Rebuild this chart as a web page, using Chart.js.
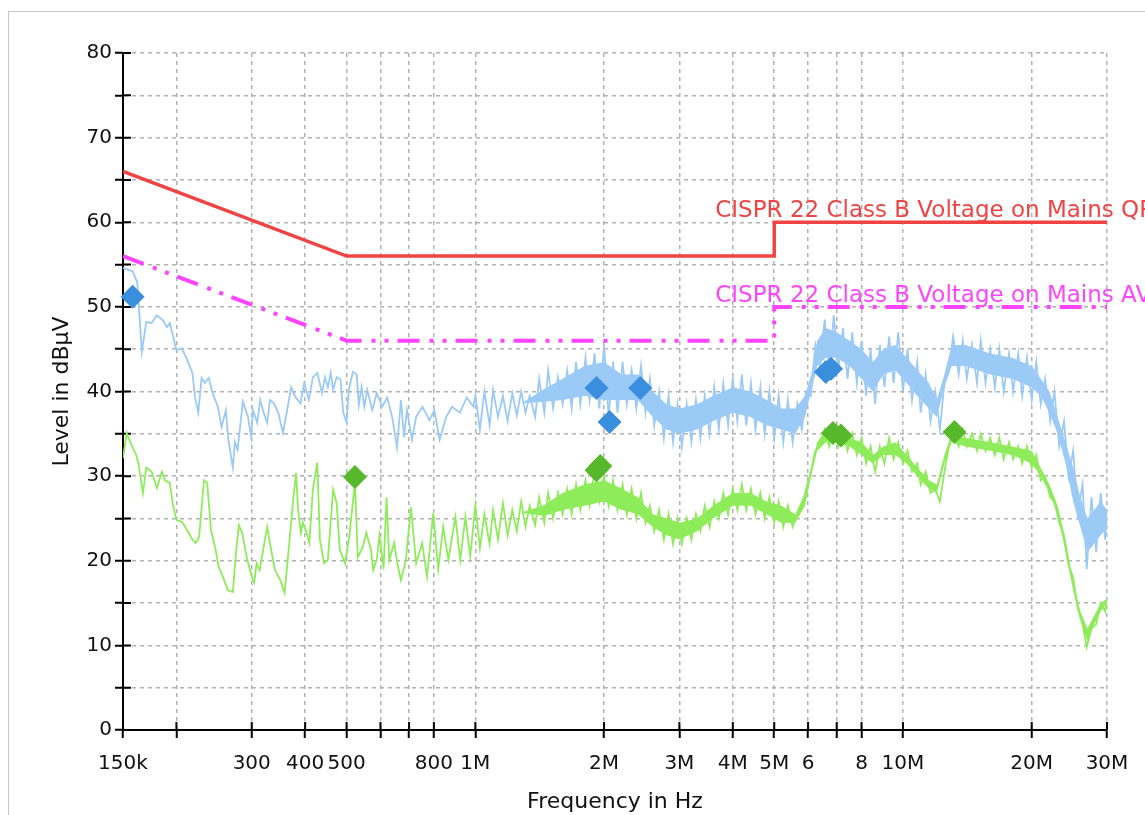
<!DOCTYPE html>
<html>
<head>
<meta charset="utf-8">
<title>EMI scan</title>
<script src="https://cdn.jsdelivr.net/npm/chart.js@4.4.1/dist/chart.umd.min.js"></script>
<style>
    html, body { margin: 0; padding: 0; background: #fff; overflow: hidden; }
    #frame { position: absolute; left: 8px; top: 11px; width: 1200px; height: 900px; border: 1px solid #c4c4c4; box-sizing: border-box; }
    #wrap { position: absolute; left: 0; top: 0; width: 1145px; height: 815px; }
</style>
</head>
<body>
<div id="frame"></div>
<div id="wrap"><canvas id="scanChart"></canvas></div>
<script>
// ============================================================
// DATA (frequency in MHz, level in dBµV)
// ============================================================
const xTickVals = [0.15, 0.2, 0.3, 0.4, 0.5, 0.6, 0.7, 0.8, 1, 2, 3, 4, 5, 6, 7, 8, 10, 20, 30];
const xTickText = ['150k', '', '300', '400', '500', '', '', '800', '1M', '2M', '3M', '4M', '5M', '6', '', '8', '10M', '20M', '30M'];
const yTickVals = [0, 5, 10, 15, 20, 25, 30, 35, 40, 45, 50, 55, 60, 65, 70, 75, 80];

const qpLimitName = 'CISPR 22 Class B Voltage on Mains QP';
const avLimitName = 'CISPR 22 Class B Voltage on Mains AV';
const qpLimitFreq = [0.15, 0.5, 5, 5, 30];
const qpLimitLvl  = [66, 56, 56, 60, 60];
const avLimitFreq = [0.15, 0.5, 5, 5, 30];
const avLimitLvl  = [56, 46, 46, 50, 50];

// final measurement markers
const qpMarkFreq = [0.158, 1.92, 2.06, 2.43, 6.6, 6.79];
const qpMarkLvl  = [51.2, 40.4, 36.4, 40.4, 42.3, 42.7];
const avMarkFreq = [0.523, 1.92, 1.96, 6.86, 7.16, 13.2];
const avMarkLvl  = [29.9, 30.7, 31.2, 35.1, 34.8, 35.2];

// peak scan, 150 kHz .. 1 MHz
const pkLowFreq = [
    0.150, 0.158, 0.162, 0.166, 0.170, 0.175, 0.180, 0.186, 0.190, 0.193,
    0.196, 0.200, 0.206, 0.212, 0.218, 0.221, 0.225, 0.229, 0.233, 0.238,
    0.243, 0.250, 0.255, 0.261, 0.264, 0.271, 0.274, 0.278, 0.286, 0.294,
    0.299, 0.302, 0.309, 0.314, 0.320, 0.326, 0.331, 0.338, 0.346, 0.355,
    0.363, 0.371, 0.380, 0.390, 0.398, 0.408, 0.417, 0.427, 0.438, 0.445,
    0.452, 0.459, 0.465, 0.474, 0.484, 0.491, 0.500, 0.506, 0.517, 0.528,
    0.534, 0.542, 0.550, 0.559, 0.574, 0.588, 0.606, 0.622, 0.639, 0.656,
    0.670, 0.681, 0.692, 0.711, 0.727, 0.752, 0.781, 0.802, 0.825, 0.855,
    0.882, 0.920, 0.955, 0.990
];
const pkLowLvl = [
    54.6, 54.2, 52.9, 44.7, 48.2, 48.1, 49.0, 48.4, 47.6, 48.1,
    46.7, 44.9, 45.1, 43.7, 42.2, 39.3, 37.5, 41.6, 41.0, 41.6,
    39.8, 38.2, 35.8, 37.8, 34.6, 31.0, 34.0, 33.1, 38.8, 37.0,
    34.6, 37.8, 36.3, 39.0, 37.5, 36.3, 39.0, 38.6, 37.5, 35.1,
    37.8, 40.5, 39.3, 38.6, 41.0, 39.0, 41.7, 42.2, 39.8, 41.7,
    40.5, 42.2, 40.2, 41.7, 41.4, 37.5, 36.3, 40.2, 42.3, 42.0,
    38.4, 40.5, 38.2, 40.2, 37.8, 39.8, 38.2, 39.3, 37.0, 33.4,
    39.0, 34.6, 37.8, 34.3, 37.0, 38.2, 36.6, 37.8, 34.3, 37.0,
    38.2, 37.5, 39.3, 38.2
];

// average scan, 150 kHz .. 1 MHz
const avLowFreq = [
    0.150, 0.153, 0.157, 0.161, 0.163, 0.167, 0.170, 0.175, 0.180, 0.185,
    0.188, 0.193, 0.196, 0.200, 0.206, 0.212, 0.218, 0.222, 0.226, 0.232,
    0.236, 0.241, 0.247, 0.251, 0.256, 0.264, 0.271, 0.276, 0.280, 0.285,
    0.292, 0.300, 0.304, 0.308, 0.313, 0.326, 0.333, 0.340, 0.350, 0.358,
    0.366, 0.375, 0.381, 0.385, 0.391, 0.395, 0.403, 0.409, 0.417, 0.427,
    0.433, 0.443, 0.452, 0.465, 0.474, 0.482, 0.496, 0.507, 0.523, 0.531,
    0.545, 0.556, 0.570, 0.577, 0.588, 0.597, 0.610, 0.620, 0.629, 0.646,
    0.658, 0.670, 0.688, 0.707, 0.727, 0.751, 0.771, 0.797, 0.819, 0.841,
    0.865, 0.898, 0.922, 0.948, 0.973
];
const avLowLvl = [
    32.1, 35.1, 33.7, 32.5, 31.5, 28.0, 31.0, 30.5, 28.6, 30.5,
    29.5, 29.2, 26.8, 24.8, 24.6, 23.6, 22.5, 22.1, 22.8, 29.5,
    29.2, 23.6, 21.3, 19.3, 18.3, 16.5, 16.3, 21.3, 24.2, 23.3,
    20.4, 18.1, 17.4, 19.7, 18.9, 24.0, 21.3, 18.9, 17.7, 16.2,
    21.3, 27.2, 30.4, 26.0, 23.3, 24.5, 23.3, 22.1, 28.4, 31.6,
    22.5, 19.7, 20.1, 28.4, 26.8, 21.3, 19.7, 22.8, 29.2, 20.4,
    21.6, 23.3, 21.3, 18.9, 20.1, 23.0, 19.0, 27.5, 20.1, 22.1,
    19.5, 17.7, 20.1, 26.3, 19.7, 22.1, 18.1, 25.6, 19.0, 24.0,
    20.1, 25.2, 20.1, 25.2, 20.5
];

// 1 MHz .. 30 MHz, both detectors on the same frequency list
const hiFreq = [
    1.00, 1.025, 1.05, 1.08, 1.10, 1.13, 1.16, 1.19, 1.22, 1.25,
    1.28, 1.31, 1.34, 1.38, 1.41, 1.45, 1.48, 1.52, 1.56, 1.60,
    1.64, 1.68, 1.72, 1.76, 1.81, 1.85, 1.90, 1.95, 2.00, 2.05,
    2.10, 2.15, 2.21, 2.26, 2.32, 2.38, 2.44, 2.50, 2.56, 2.62,
    2.69, 2.76, 2.83, 2.90, 2.97, 3.04, 3.12, 3.20, 3.28, 3.36,
    3.44, 3.53, 3.62, 3.71, 3.80, 3.90, 4.00, 4.10, 4.20, 4.30,
    4.41, 4.52, 4.64, 4.75, 4.87, 5.00, 5.12, 5.25, 5.38, 5.52,
    5.66, 5.80, 5.94, 6.09, 6.24, 6.40, 6.56, 6.72, 6.89, 7.06,
    7.24, 7.42, 7.61, 7.80, 8.00, 8.20, 8.40, 8.61, 8.83, 9.05,
    9.28, 9.51, 9.75, 10.0, 10.25, 10.5, 10.8, 11.0, 11.3, 11.6,
    11.9, 12.2, 12.5, 12.8, 13.1, 13.5, 13.8, 14.1, 14.5, 14.9,
    15.2, 15.6, 16.0, 16.4, 16.8, 17.2, 17.7, 18.1, 18.6, 19.0,
    19.5, 20.0, 20.5, 21.0, 21.5, 22.1, 22.6, 23.2, 23.8, 24.4,
    25.0, 25.6, 26.3, 26.9, 27.6, 28.3, 29.0, 29.7, 30.0
];
const pkHiLvl = [
    39.5, 35.5, 40.0, 36.0, 40.2, 37.0, 39.5, 36.5, 39.8, 37.2,
    40.0, 37.5, 39.5, 37.0, 41.5, 37.5, 42.5, 38.0, 41.7, 38.5,
    42.5, 38.0, 43.5, 38.5, 44.0, 39.0, 44.5, 38.0, 45.5, 37.0,
    43.5, 37.5, 43.5, 38.5, 42.5, 38.0, 43.0, 37.5, 41.5, 36.0,
    40.0, 34.5, 39.5, 34.0, 38.5, 33.5, 38.5, 34.0, 39.0, 34.5,
    39.5, 35.0, 40.5, 35.5, 41.0, 36.0, 41.5, 36.5, 42.0, 36.0,
    41.0, 35.5, 40.5, 35.0, 40.0, 34.5, 39.5, 34.0, 39.0, 34.0,
    38.5, 35.5, 40.0, 39.5, 45.5, 43.0, 48.5, 42.5, 49.0, 42.5,
    47.5, 41.5, 47.0, 41.0, 46.0, 39.5, 45.0, 38.5, 45.5, 40.5,
    46.5, 41.0, 47.0, 40.0, 45.0, 39.0, 43.5, 37.5, 42.0, 36.5,
    40.0, 35.5, 41.0, 42.5, 46.5, 42.0, 46.0, 41.5, 45.5, 41.0,
    46.0, 41.0, 45.0, 40.5, 45.0, 40.0, 44.5, 40.0, 44.5, 39.5,
    44.0, 39.0, 43.5, 38.5, 41.5, 36.5, 40.0, 33.5, 36.5, 30.0,
    33.0, 25.5, 29.0, 19.0, 27.5, 21.0, 28.0, 22.5, 26.0
];
const avHiLvl = [
    26.5, 21.5, 25.5, 22.0, 26.0, 22.5, 26.8, 23.0, 26.0, 23.5,
    27.0, 24.0, 26.5, 24.2, 27.5, 24.5, 28.0, 25.0, 28.0, 25.5,
    28.5, 25.5, 29.0, 26.0, 29.5, 26.5, 30.5, 27.0, 30.0, 26.5,
    29.5, 26.0, 29.0, 25.5, 28.5, 25.0, 28.0, 24.5, 26.5, 23.5,
    26.0, 22.5, 25.5, 22.0, 25.0, 22.0, 25.0, 22.5, 25.5, 23.5,
    26.5, 24.0, 27.0, 25.0, 28.0, 25.5, 28.5, 26.0, 29.0, 26.0,
    28.5, 25.5, 28.0, 25.0, 27.5, 24.5, 27.0, 24.0, 26.5, 24.0,
    25.5, 26.5, 28.5, 30.5, 33.0, 33.5, 35.5, 33.5, 36.0, 33.5,
    35.5, 33.0, 35.0, 32.5, 34.5, 31.5, 33.5, 30.5, 33.5, 31.5,
    34.5, 32.0, 34.0, 31.5, 33.0, 30.5, 31.5, 29.0, 30.5, 28.0,
    28.5, 27.0, 30.5, 33.5, 35.5, 33.5, 35.5, 33.5, 35.0, 33.0,
    35.0, 33.0, 34.5, 32.5, 34.5, 32.0, 34.0, 32.0, 33.5, 31.5,
    33.5, 31.0, 32.5, 29.5, 30.0, 27.5, 27.0, 24.5, 23.0, 19.5,
    18.0, 14.5, 12.5, 9.8, 12.0, 12.5, 15.0, 14.0, 15.5
];

// solid core of the dense noise bands above ~1.3 MHz
const bandFreq = [
    1.3, 1.45, 1.6, 1.8, 2.0, 2.2, 2.4, 2.6, 2.8, 3.0, 3.3,
    3.6, 4.0, 4.4, 4.8, 5.2, 5.6, 5.9, 6.1, 6.3, 6.6,
    7.0, 7.5, 8.0, 8.5, 9.0, 9.6, 10.2, 10.8, 11.5, 12.0,
    12.5, 13.0, 14, 16, 18, 20, 21, 22, 23, 24,
    25, 26, 27, 28, 29, 30
];
const pkBandLo = [
    38.6, 38.8, 39, 39.5, 39, 39, 39, 37, 35.5, 35, 35.5,
    36.5, 37.5, 37, 36, 35.5, 35, 37, 40, 43, 44,
    44, 43, 41.5, 40, 42, 42.5, 41, 39.5, 38, 37,
    40.5, 43, 43, 42, 41.5, 40.5, 39.5, 37.5, 35, 31.5,
    27, 24, 21, 22, 23, 24
];
const pkBandHi = [
    38.8, 40.3, 41.5, 43, 43.5, 42, 42, 40, 38.5, 38, 38.5,
    39.5, 40.5, 40, 39, 38, 38, 39.5, 42, 46, 47.5,
    47, 46, 45, 43.5, 45, 45.5, 44, 42.5, 41, 39,
    42, 45.5, 45.5, 44.5, 44, 43, 41.5, 40, 37, 34,
    31, 27.5, 25, 26, 27, 26
];
const avBandLo = [
    25.6, 25.3, 26, 26.5, 27, 26, 25.5, 24, 23, 22.5, 23.5,
    25, 26.5, 26.5, 25.5, 24.5, 24.5, 26.5, 30, 33, 34,
    34, 33.5, 32.5, 31.5, 32.5, 32.5, 31.5, 30, 28.5, 28,
    31.5, 34, 33.5, 33, 32.5, 31.5, 30, 28, 25.5, 21,
    16.5, 13, 10.5, 12.5, 14, 15
];
const avBandHi = [
    25.8, 26.6, 28, 29, 29.5, 28.5, 27.5, 25.5, 25, 24.5, 25,
    26.5, 28, 28, 27, 26.5, 25.5, 28, 31, 34, 35.5,
    35.5, 34.5, 34, 32.5, 33.5, 34, 32.5, 31, 29.5, 29,
    32.5, 35, 34.5, 34, 33.5, 33, 31, 29, 26.5, 22.5,
    17.5, 14, 12, 13.5, 15, 15.5
];

// ============================================================
// STYLE
// ============================================================
const FONT = 'DejaVu Sans';
const COLORS = {
    qpLimit: '#f04444',
    avLimit: '#ff44ff',
    peak: '#9ccaf6',
    average: '#8eec5a',
    qpMark: '#3a8ede',
    avMark: '#58b82c',
    grid: '#b2b2b2'
};
// label anchors (MHz, dBµV)
const qpLabelAt = [3.64, 60.6];
const avLabelAt = [3.64, 50.6];

function pairs(fs, ls) {
    return fs.map((f, i) => ({ x: f, y: ls[i] }));
}

function bandEdge(fs, ls, fillTo, color) {
    return {
        data: pairs(fs, ls),
        pointRadius: 0,
        borderWidth: 0,
        borderColor: color,
        backgroundColor: color,
        fill: fillTo
    };
}

// ticks that cross into the plot area
const innerTicks = {
    id: 'innerTicks',
    beforeDatasetsDraw(chart) {
        const { ctx, chartArea, scales: { x, y } } = chart;
        ctx.save();
        ctx.strokeStyle = '#000';
        ctx.lineWidth = 2;
        ctx.beginPath();
        x.ticks.forEach(t => {
            const px = x.getPixelForValue(t.value);
            ctx.moveTo(px, chartArea.bottom);
            ctx.lineTo(px, chartArea.bottom - 8);
        });
        y.ticks.forEach(t => {
            const py = y.getPixelForValue(t.value);
            ctx.moveTo(chartArea.left, py);
            ctx.lineTo(chartArea.left + 8, py);
        });
        ctx.stroke();
        ctx.restore();
    }
};

// limit line names
const limitLabels = {
    id: 'limitLabels',
    afterDatasetsDraw(chart) {
        const { ctx, scales: { x, y } } = chart;
        ctx.save();
        ctx.font = '23px "' + FONT + '"';
        ctx.textBaseline = 'alphabetic';
        ctx.textAlign = 'left';
        ctx.fillStyle = COLORS.qpLimit;
        ctx.fillText(qpLimitName, x.getPixelForValue(qpLabelAt[0]), y.getPixelForValue(qpLabelAt[1]));
        ctx.fillStyle = COLORS.avLimit;
        ctx.fillText(avLimitName, x.getPixelForValue(avLabelAt[0]), y.getPixelForValue(avLabelAt[1]));
        ctx.restore();
    }
};

// ============================================================
// CHART
// ============================================================
const ctx = document.getElementById('scanChart');

new Chart(ctx.getContext('2d'), {
    type: 'line',
    data: {
        datasets: [
            {
                label: 'QP final',
                data: pairs(qpMarkFreq, qpMarkLvl),
                showLine: false,
                pointStyle: 'rectRot',
                pointRadius: 12,
                backgroundColor: COLORS.qpMark,
                borderColor: COLORS.qpMark,
                borderWidth: 0,
                clip: false
            },
            {
                label: 'AV final',
                data: pairs(avMarkFreq, avMarkLvl),
                showLine: false,
                pointStyle: 'rectRot',
                pointRadius: 12,
                backgroundColor: COLORS.avMark,
                borderColor: COLORS.avMark,
                borderWidth: 0,
                clip: false
            },
            {
                label: qpLimitName,
                data: pairs(qpLimitFreq, qpLimitLvl),
                pointRadius: 0,
                borderColor: COLORS.qpLimit,
                borderWidth: 3.5
            },
            {
                label: avLimitName,
                data: pairs(avLimitFreq, avLimitLvl),
                pointRadius: 0,
                borderColor: COLORS.avLimit,
                borderWidth: 4,
                borderDash: [22, 10, 4, 9, 4, 9]
            },
            {
                label: 'Peak',
                data: pairs(pkLowFreq, pkLowLvl).concat(pairs(hiFreq, pkHiLvl)),
                pointRadius: 0,
                borderColor: COLORS.peak,
                borderWidth: 1.8
            },
            {
                label: 'Average',
                data: pairs(avLowFreq, avLowLvl).concat(pairs(hiFreq, avHiLvl)),
                pointRadius: 0,
                borderColor: COLORS.average,
                borderWidth: 1.8
            },
            bandEdge(bandFreq, pkBandLo, false, COLORS.peak),
            bandEdge(bandFreq, pkBandHi, '-1', COLORS.peak),
            bandEdge(bandFreq, avBandLo, false, COLORS.average),
            bandEdge(bandFreq, avBandHi, '-1', COLORS.average)
        ]
    },
    options: {
        responsive: true,
        maintainAspectRatio: false,
        animation: false,
        layout: { padding: { left: 0, top: 53, right: 38, bottom: 0 } },
        plugins: {
            legend: { display: false },
            tooltip: { enabled: false }
        },
        scales: {
            x: {
                type: 'logarithmic',
                min: 0.15,
                max: 30,
                afterBuildTicks: s => { s.ticks = xTickVals.map(v => ({ value: v })); },
                afterFit: s => { s.height = 85; },
                ticks: {
                    autoSkip: false,
                    maxRotation: 0,
                    minRotation: 0,
                    padding: 14,
                    color: '#111',
                    font: { family: FONT, size: 20 },
                    callback: v => xTickText[xTickVals.indexOf(v)] || ''
                },
                grid: { color: COLORS.grid, lineWidth: 1.5, tickColor: '#000', tickWidth: 2, tickLength: 8 },
                border: { display: true, color: '#000', width: 2, dash: [4, 4] },
                title: {
                    display: true,
                    text: 'Frequency in Hz',
                    color: '#111',
                    font: { family: FONT, size: 22 },
                    padding: { top: 0, bottom: 0 }
                }
            },
            y: {
                min: 0,
                max: 80,
                afterBuildTicks: s => { s.ticks = yTickVals.map(v => ({ value: v })); },
                afterFit: s => { s.width = 123; },
                ticks: {
                    autoSkip: false,
                    padding: 3,
                    color: '#111',
                    font: { family: FONT, size: 20 },
                    callback: v => (v % 10 === 0 ? v : '')
                },
                grid: { color: COLORS.grid, lineWidth: 1.5, tickColor: '#000', tickWidth: 2, tickLength: 8 },
                border: { display: true, color: '#000', width: 2, dash: [4, 4] },
                title: {
                    display: true,
                    text: 'Level in dBµV',
                    color: '#111',
                    font: { family: FONT, size: 22 },
                    padding: { top: 49, bottom: 0 }
                }
            }
        }
    },
    plugins: [innerTicks, limitLabels]
});
</script>
</body>
</html>
